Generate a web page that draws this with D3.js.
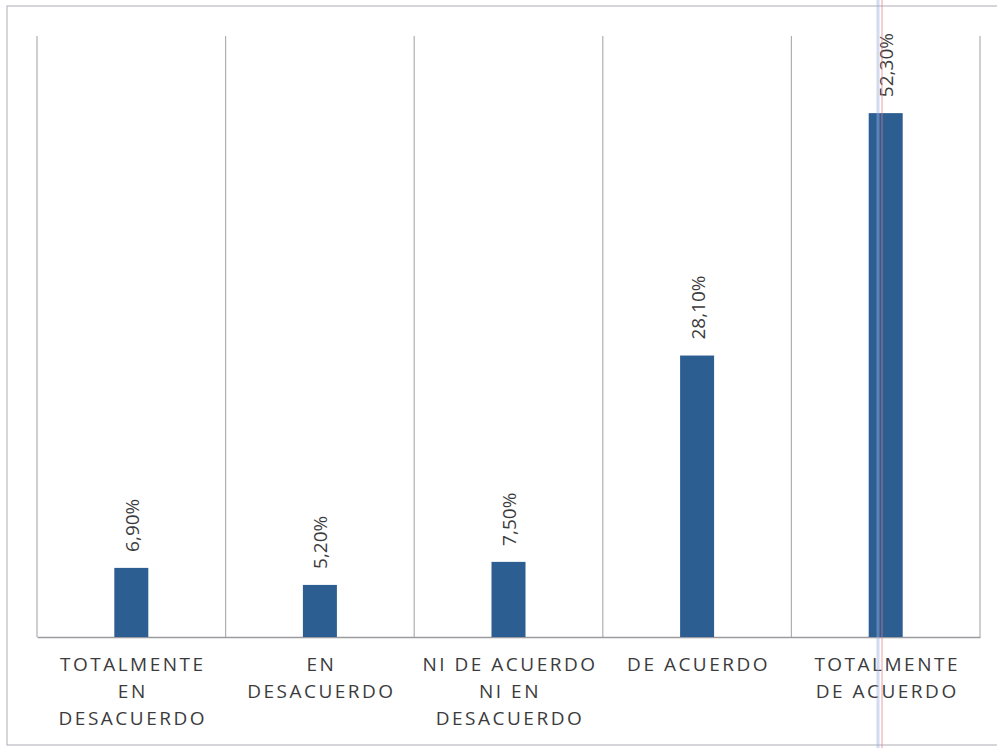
<!DOCTYPE html>
<html>
<head>
<meta charset="utf-8">
<script src="https://cdn.jsdelivr.net/npm/d3@7"></script>
<style>
  html, body { margin: 0; padding: 0; background: #ffffff; }
  svg { display: block; }
</style>
</head>
<body>
<svg id="chart" width="997" height="748"></svg>
<script>
// ---- data ----
const categories = [
  ["TOTALMENTE", "EN", "DESACUERDO"],
  ["EN", "DESACUERDO"],
  ["NI DE ACUERDO", "NI EN", "DESACUERDO"],
  ["DE ACUERDO"],
  ["TOTALMENTE", "DE ACUERDO"]
];
const categoryKeys = ["TED", "ED", "NAND", "DA", "TDA"];
const values = [6.9, 5.2, 7.5, 28.1, 52.3];
const valueLabels = ["6,90%", "5,20%", "7,50%", "28,10%", "52,30%"];
const yDomain = [0, 60];

// ---- layout ----
const svg = d3.select("#chart");
const W = 997, H = 748;
const plot = { left: 37, right: 980, top: 36, bottom: 637 };
const textColor = "#3b3b3d";
const barColor = "#2d5e92";
const gridColor = "#aeaeb6";

// outer frame (scan of chart border)
svg.append("rect").attr("x", 7).attr("y", 6).attr("width", W + 10).attr("height", 739)
  .attr("fill", "none").attr("stroke", "#b9b9c2").attr("stroke-width", 1.2);

const x = d3.scaleBand().domain(categoryKeys).range([plot.left, plot.right]).paddingInner(0).paddingOuter(0);
const y = d3.scaleLinear().domain(yDomain).range([plot.bottom, plot.top]);

// vertical category separators
const sepX = categoryKeys.map(k => x(k)).concat([plot.right]);
svg.append("g").selectAll("line").data(sepX).join("line")
  .attr("x1", d => d).attr("x2", d => d)
  .attr("y1", y(yDomain[1])).attr("y2", y(0))
  .attr("stroke", gridColor).attr("stroke-width", 1.2);

// baseline axis
const xAxis = d3.axisBottom(x).tickSize(0).tickFormat("");
const gx = svg.append("g").attr("transform", `translate(0,${y(0)})`).call(xAxis);
gx.select(".domain").attr("stroke", "#9a9aa0").attr("stroke-width", 1.6);

// bars
const barW = 34;
svg.append("g").selectAll("rect").data(values).join("rect")
  .attr("x", (d, i) => x(categoryKeys[i]) + x.bandwidth() / 2 - barW / 2)
  .attr("y", d => y(d))
  .attr("width", barW)
  .attr("height", d => y(0) - y(d))
  .attr("fill", barColor);

// value labels (rotated)
svg.append("g").selectAll("text").data(values).join("text")
  .attr("transform", (d, i) => `translate(${x(categoryKeys[i]) + x.bandwidth() / 2 + 7.5},${y(d) - 16}) rotate(-90)`)
  .attr("text-anchor", "start")
  .attr("font-family", "'Open Sans', sans-serif")
  .attr("font-size", 19)
  .attr("fill", textColor)
  .text((d, i) => valueLabels[i]);

// category labels
const lab = svg.append("g").selectAll("text").data(categories).join("text")
  .attr("text-anchor", "middle")
  .attr("font-family", "'Open Sans', sans-serif")
  .attr("font-size", 19)
  .attr("letter-spacing", 2.5)
  .attr("fill", textColor);
lab.each(function(lines, i) {
  const cx = x(categoryKeys[i]) + x.bandwidth() / 2 + 1.5;
  d3.select(this).selectAll("tspan").data(lines).join("tspan")
    .attr("x", cx)
    .attr("y", (d, j) => 671 + j * 27)
    .text(d => d);
});

// scan artefact: faint vertical marker lines across the last column
svg.append("line").attr("x1", 878).attr("x2", 878).attr("y1", 0).attr("y2", H)
  .attr("stroke", "#9fb0e0").attr("stroke-width", 3).attr("opacity", 0.45);
svg.append("line").attr("x1", 882).attr("x2", 882).attr("y1", 0).attr("y2", H)
  .attr("stroke", "#e07a86").attr("stroke-width", 1).attr("opacity", 0.7);
</script>
</body>
</html>
